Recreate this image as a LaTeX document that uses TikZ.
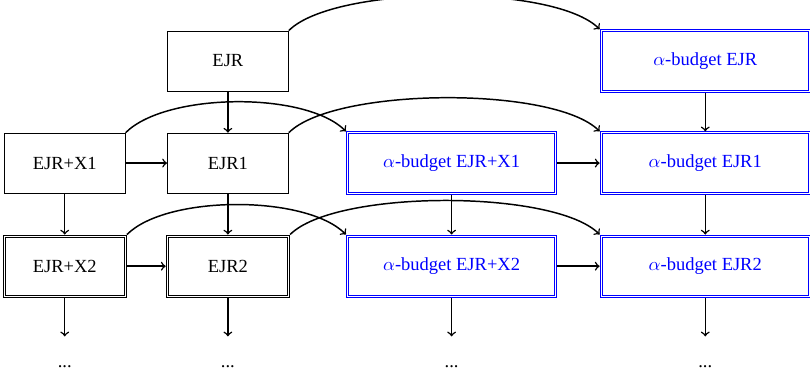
\documentclass[tikz,border=0pt]{standalone}
\usepackage{fontspec}
\setmainfont{Liberation Serif}
\usepackage{xcolor}
\usepackage{tikz}
\usetikzlibrary{positioning,calc}

\begin{document}
\begin{tikzpicture}[
	box/.style={draw, minimum width=2.3cm, minimum height=1.14cm},
	inner/.style={append after command={\pgfextra{\draw[#1] ($(\tikzlastnode.north west)+(1.3pt,-1.3pt)$) rectangle ($(\tikzlastnode.south east)+(-1.3pt,1.3pt)$);}}},
	dbox/.style={box, minimum width=2.35cm, minimum height=1.19cm, inner=black},
	abox/.style={draw=blue, text=blue, minimum width=4cm, minimum height=1.19cm, inner=blue},
	more/.style={minimum height=1.14cm},
	arr/.style={->, thick},
	jump/.style={->, thick, out=45, in=135}
	]
						\useasboundingbox (0,0) rectangle (15.39,7.258);
						\node[box] (e)  at (4.33,6.10) {EJR};
						\node[box] (ex1)  at (1.23,4.16) {EJR+X1};
						\node[box] (e1)  at (4.33,4.16) {EJR1};
						\node[dbox] (ex2)  at (1.23,2.20) {EJR+X2};
						\node[dbox] (e2)  at (4.33,2.20) {EJR2};
						\node[abox] (a)  at (13.40,6.10) {$\alpha$-budget EJR};
						\node[abox] (ax1)  at (8.58,4.16) {$\alpha$-budget EJR+X1};
						\node[abox] (a1)  at (13.40,4.16) {$\alpha$-budget EJR1};
						\node[abox] (ax2)  at (8.58,2.20) {$\alpha$-budget EJR+X2};
						\node[abox] (a2)  at (13.40,2.20) {$\alpha$-budget EJR2};
						\node[more] (d1) at (1.23,0.29) {...};
						\node[more] (d2) at (4.33,0.29) {...};
						\node[more] (d3) at (8.58,0.29) {...};
						\node[more] (d4) at (13.40,0.29) {...};
						\draw[arr] (e) -- (e1);
						\draw[arr] (ex1) -- (e1);
						\draw[arr] (ex1) -- (ex2);
						\draw[arr] (e1) -- (e2);
						\draw[arr] (ex2) -- (e2);
						\draw[arr] (a) -- (a1);
						\draw[arr] (ax1) -- (a1);
						\draw[arr] (ax1) -- (ax2);
						\draw[arr] (a1) -- (a2);
						\draw[arr] (ax2) -- (a2);
						\draw[arr] (ex2) -- (d1);
						\draw[arr] (e2) -- (d2);
						\draw[arr] (ax2) -- (d3);
						\draw[arr] (a2) -- (d4);
						\draw[jump, looseness=0.53] (e.north east) to (a.north west);
						\draw[jump, looseness=0.66] (ex1.north east) to (ax1.north west);
						\draw[jump, looseness=0.53] (e1.north east) to (a1.north west);
						\draw[jump, looseness=0.66] (ex2.north east) to (ax2.north west);
						\draw[jump, looseness=0.53] (e2.north east) to (a2.north west);
					\end{tikzpicture}
\end{document}
